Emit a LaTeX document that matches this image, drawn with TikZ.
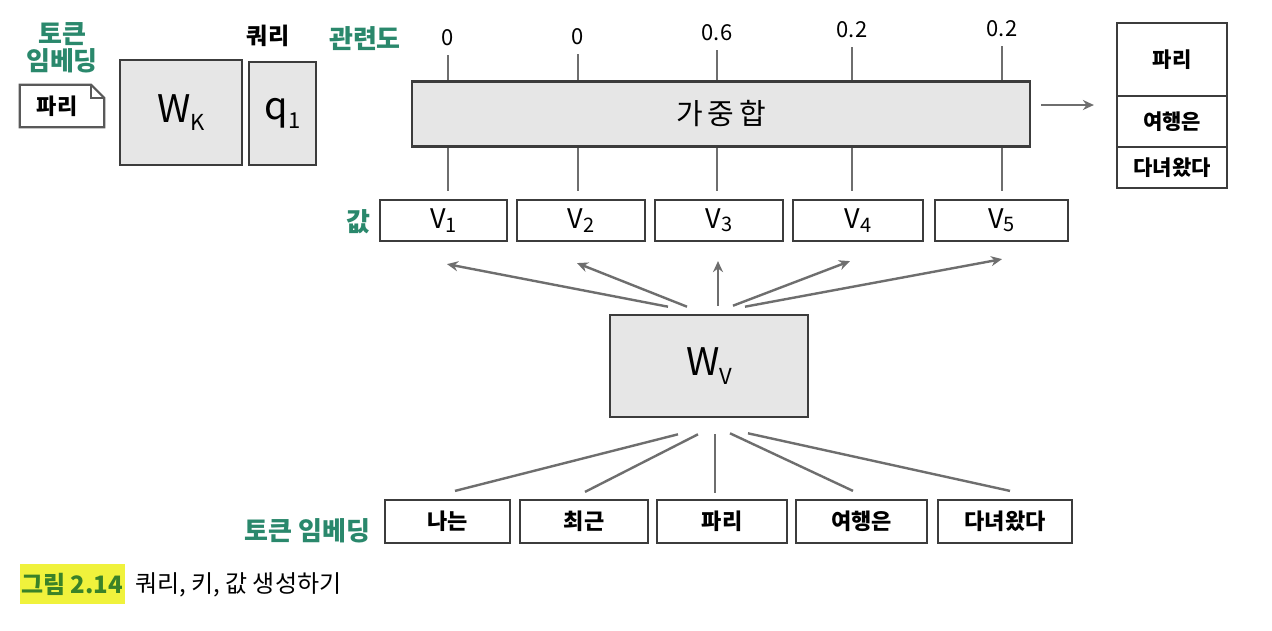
\documentclass[tikz,border=0pt]{standalone}
\usepackage{fontspec}
\setmainfont{Noto Sans CJK KR}
\usetikzlibrary{arrows.meta,calc}
\definecolor{lblgreen}{RGB}{42,136,108}
\definecolor{capgreen}{RGB}{58,130,40}
\definecolor{hilite}{RGB}{240,242,60}
\definecolor{boxline}{RGB}{60,60,60}
\definecolor{boxfill}{RGB}{230,230,230}
\definecolor{linegray}{RGB}{110,110,110}
\newcommand\lsub[1]{\raisebox{-0.22em}{\fontsize{22}{22}\selectfont #1}}
\newcommand\vsub[1]{\raisebox{-0.12em}{\fontsize{20}{20}\selectfont #1}}
\begin{document}
\begin{tikzpicture}[x=1pt,y=-1pt,
  gbox/.style={draw=boxline, line width=2.6pt, fill=boxfill, inner sep=0pt},
  wbox/.style={draw=boxline, line width=2.2pt, fill=white, inner sep=0pt},
  conn/.style={draw=linegray, line width=2.4pt},
  arr/.style={conn, -{Stealth[length=11pt,width=10pt]}},
  glabel/.style={text=lblgreen, font=\fontsize{26}{30}\selectfont\bfseries, inner sep=0pt},
  num/.style={font=\fontsize{22}{22}\selectfont, inner sep=0pt},
  vtxt/.style={font=\fontsize{27}{27}\selectfont},
  tok/.style={font=\fontsize{22}{22}\selectfont\bfseries},
  otxt/.style={font=\fontsize{21}{21}\selectfont\bfseries},
  bigtxt/.style={font=\fontsize{38}{38}\selectfont}]
\useasboundingbox (0,0) rectangle (1272,630);
\fill[white] (0,0) rectangle (1272,630);

% top-left label and document icon
\node[glabel, align=center] (tlabel) at (62,48) {토큰\\[-3pt]임베딩};
\node[inner sep=0pt, minimum width=84pt, minimum height=42pt] (doc) at (62,106) {};
\draw[draw=boxline!85, line width=2.2pt, fill=white]
  (doc.north west) -- ($(doc.north east)+(-13,0)$) -- ($(doc.north east)+(0,13)$)
  -- (doc.south east) -- (doc.south west) -- cycle;
\draw[draw=boxline!85, line width=1.5pt] ($(doc.north east)+(-13,0)$) -- ($(doc.north east)+(-13,13)$) -- ($(doc.north east)+(0,13)$);
\node[font=\fontsize{22}{22}\selectfont\bfseries] (doctxt) at ($(doc)+(-5,0)$) {파리};

% W_K and q1
\node[gbox, minimum width=122pt, minimum height=105pt, bigtxt] (wk) at (181,112.5) {W\lsub{K}};
\node[gbox, minimum width=67pt, minimum height=103pt, bigtxt] (q1) at (282.5,113.5) {q\lsub{1}};
\node[font=\fontsize{23}{23}\selectfont\bfseries, inner sep=0pt] (qlabel) at (268,36) {쿼리};

% relevance label and values
\node[glabel] (rlabel) at (365,39) {관련도};
\node[num] (r1) at (448,38) {0};
\node[num] (r2) at (578,37) {0};
\node[num] (r3) at (717,33) {0.6};
\node[num] (r4) at (852,30) {0.2};
\node[num] (r5) at (1002,29) {0.2};

% weighted sum box
\node[gbox, minimum width=618pt, minimum height=65pt, font=\fontsize{29}{29}\selectfont] (sum) at (721,114) {가\,중\,합};

% value boxes
\node[glabel] (vlabel) at (358,222) {값};
\node[wbox, minimum width=127pt, minimum height=41pt, vtxt] (v1) at (443.5,220.5) {V\vsub{1}};
\node[wbox, minimum width=128pt, minimum height=41pt, vtxt] (v2) at (581,220.5) {V\vsub{2}};
\node[wbox, minimum width=128pt, minimum height=41pt, vtxt] (v3) at (719,220.5) {V\vsub{3}};
\node[wbox, minimum width=130pt, minimum height=41pt, vtxt] (v4) at (858,220.5) {V\vsub{4}};
\node[wbox, minimum width=133pt, minimum height=41pt, vtxt] (v5) at (1001.5,220.5) {V\vsub{5}};

% ticks above and below the weighted-sum box
\foreach \r/\v in {r1/v1, r2/v2, r3/v3, r4/v4, r5/v5} {
  \draw[conn] ($(\r.south)+(0,9)$) -- (\r.south |- sum.north);
  \draw[conn] (\r.south |- sum.south) -- ($(\r.south |- \v.north)+(0,-8)$);
}

% output box
\node[wbox, minimum width=110pt, minimum height=73pt, otxt] (o1) at (1172,59.5) {파리};
\node[wbox, minimum width=110pt, minimum height=51pt, otxt] (o2) at (1172,121.5) {여행은};
\node[wbox, minimum width=110pt, minimum height=41pt, otxt] (o3) at (1172,167.5) {다녀왔다};
\draw[arr] ($(sum.east)+(10,-9)$) -- ($(o2.west)+(-22,-16.5)$);

% W_V box
\node[gbox, minimum width=198pt, minimum height=102pt, bigtxt] (wv) at (709,366) {W\lsub{V}};

% arrows from W_V to values
\draw[arr] ($(wv.north)+(-41,-7)$) -- ($(v1.south)+(3.5,22)$);
\draw[arr] ($(wv.north)+(-22,-7)$) -- ($(v2.south)+(-4,21)$);
\draw[arr] ($(wv.north)+(9,-8)$) -- ($(v3.south)+(-1,19)$);
\draw[arr] ($(wv.north)+(24,-8)$) -- ($(v4.south)+(-8,19)$);
\draw[arr] ($(wv.north)+(36,-7)$) -- ($(v5.south)+(0.5,17)$);

% token embeddings
\node[glabel] (blabel) at (307.5,531) {토큰 임베딩};
\node[wbox, minimum width=125pt, minimum height=43pt, tok] (t1) at (447.5,521.5) {나는};
\node[wbox, minimum width=128pt, minimum height=43pt, tok] (t2) at (584,521.5) {최근};
\node[wbox, minimum width=130pt, minimum height=43pt, tok] (t3) at (722,521.5) {파리};
\node[wbox, minimum width=131pt, minimum height=43pt, tok] (t4) at (861.5,521.5) {여행은};
\node[wbox, minimum width=134pt, minimum height=43pt, tok] (t5) at (1005,521.5) {다녀왔다};

% lines from tokens to W_V
\draw[conn] ($(wv.south)+(-31,16)$) -- ($(t1.north)+(7.5,-8)$);
\draw[conn] ($(wv.south)+(-11,16)$) -- ($(t2.north)+(1,-7)$);
\draw[conn] ($(wv.south)+(6,16)$) -- ($(wv.south)+(6,75)$);
\draw[conn] ($(wv.south)+(21,15)$) -- ($(t4.north)+(-8.5,-8)$);
\draw[conn] ($(wv.south)+(39,15)$) -- ($(t5.north)+(5,-8)$);

% caption
\node[fill=hilite, minimum width=105pt, minimum height=40pt, inner sep=0pt, text=capgreen, font=\fontsize{24}{24}\selectfont\bfseries] (capnum) at (72,584) {그림 2.14};
\node[anchor=west, inner sep=0pt, font=\fontsize{24}{24}\selectfont] (captxt) at (135,585) {쿼리, 키, 값 생성하기};
\end{tikzpicture}
\end{document}
